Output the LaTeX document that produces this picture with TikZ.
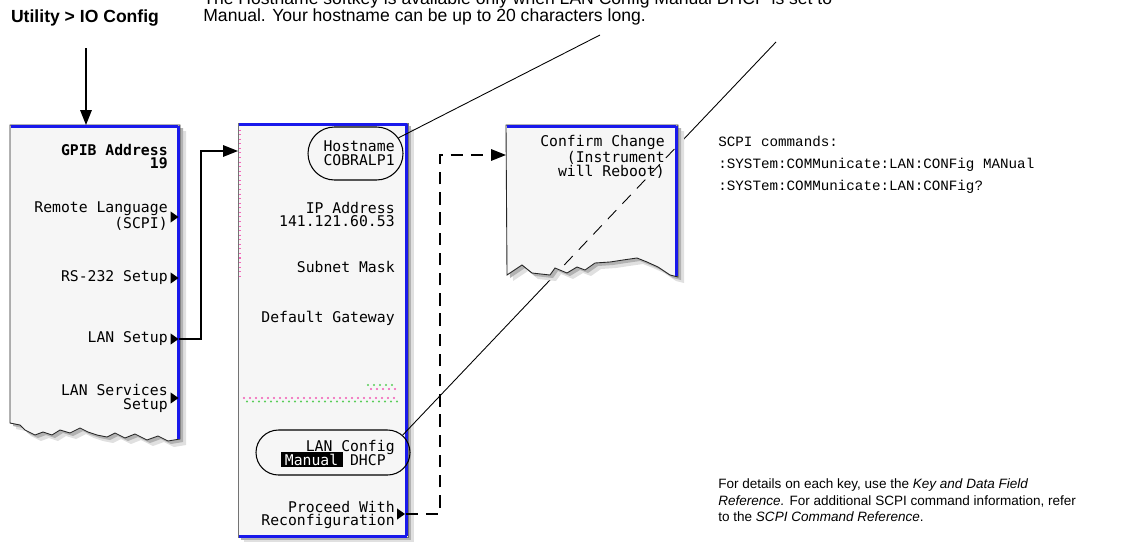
\documentclass[tikz,border=0pt]{standalone}
\usepackage{fontspec}
\setmainfont{Liberation Sans}
\setmonofont{Liberation Mono}
\newfontfamily\keyfont{DejaVu Sans Mono}
\usepackage{tikz}
\usetikzlibrary{arrows.meta}
\usetikzlibrary{positioning}
\usetikzlibrary{fit}
\usetikzlibrary{shapes.misc}
\usetikzlibrary{shapes.geometric}

\definecolor{screenbg}{RGB}{246,246,246}
\definecolor{screenblue}{RGB}{25,25,235}

% screen outlines, in pixels
\newcommand\gpibedge{(10,125) -- (180,125) -- (180,439) -- (168,441) -- (158,436) -- (147,440) -- (135,434) -- (125,438) -- (115,433) -- (107,437) -- (97,435) -- (88,432) -- (80,428) -- (70,433) -- (60,430) -- (52,435) -- (43,432) -- (35,435) -- (25,430) -- (20,425) -- (10,423) -- cycle}
\newcommand\lanedge{(238,123) rectangle (408,537)}
\newcommand\confirmedge{(506,125) -- (678,125) -- (678,277) -- (670,275) -- (658,267) -- (647,262) -- (637,258) -- (623,260) -- (610,262) -- (595,263) -- (585,270) -- (577,267) -- (567,273) -- (555,268) -- (550,275) -- (532,273) -- (522,265) -- (507,275) -- cycle}

\begin{document}
\begin{tikzpicture}[x=0.02cm, y=-0.02cm,
    keylabel/.style={font=\keyfont\fontsize{8.4}{7.9}\selectfont, align=right, anchor=east, inner sep=0pt},
    softkey/.style={isosceles triangle, isosceles triangle apex angle=70, fill=black, inner sep=0pt, minimum size=4.5pt},
    ovalkey/.style={rounded rectangle, draw, line width=0.6pt, inner sep=0pt},
    keywire/.style={line width=1pt, -{Triangle[length=8.5pt, width=6.5pt]}},
    callout/.style={line width=0.5pt},
    shadefar/.style={fill=black!12},
    shadenear/.style={fill=black!30},
    screen/.style={fill=screenbg, draw=black!85, line width=0.5pt},
    blueedge/.style={draw=screenblue, line width=1.7pt}]
\useasboundingbox (0,0) rectangle (1138,541);

\node[font=\bfseries\fontsize{10}{12}\selectfont, inner sep=0pt] (ioPath) at (85,18) {Utility > IO Config};
\node[font=\fontsize{10}{9.5}\selectfont, align=left, anchor=south west, inner sep=0pt] (hostNote) at (203,25)
    {The Hostname softkey is available only when LAN Config Manual DHCP is set to\\Manual. Your hostname can be up to 20 characters long.};

% IO Config menu
\begin{scope}[shift={(6,6)}] \fill[shadefar] \gpibedge; \end{scope}
\begin{scope}[shift={(3,3)}] \fill[shadenear] \gpibedge; \end{scope}
\filldraw[screen] \gpibedge;
\draw[blueedge] (11,126.5) -- (178,126.5);
\draw[blueedge] (178.5,126) -- (178.5,439);
\node[keylabel, font=\keyfont\bfseries\fontsize{8.4}{7.9}\selectfont] (gpibKey) at (168,156.5) {GPIB Address\\19};
\node[keylabel] (remoteKey) at (168,216) {Remote Language\\(SCPI)};
\node[keylabel] (rsKey) at (168,278) {RS-232 Setup};
\node[keylabel] (lanKey) at (168,339) {LAN Setup};
\node[keylabel] (servKey) at (168,398) {LAN Services\\Setup};
\node[softkey] (remoteTri) at (173.5,217) {};
\node[softkey] (rsTri) at (173.5,278) {};
\node[softkey] (lanTri) at (173.5,339) {};
\node[softkey] (servTri) at (173.5,398) {};

% LAN Setup menu
\begin{scope}[shift={(6,6)}] \fill[shadefar] \lanedge; \end{scope}
\begin{scope}[shift={(3,3)}] \fill[shadenear] \lanedge; \end{scope}
\filldraw[screen, draw=black!55] \lanedge;
\draw[magenta!60, dotted, line width=0.6pt] (240,125) -- (240,277);
\draw[blueedge] (239,124.5) -- (407,124.5);
\draw[blueedge] (406.5,124) -- (406.5,536);
\draw[blueedge] (239,536) -- (407,536);
\node[keylabel] (hostKey) at (395,153.5) {Hostname\\COBRALP1};
\node[keylabel] (ipKey) at (395,214.5) {IP Address\\141.121.60.53};
\node[keylabel] (maskKey) at (395,267) {Subnet Mask};
\node[keylabel] (gateKey) at (395,318) {Default Gateway};
\foreach \x in {244,250,...,396} {
    \fill[magenta!65] (\x,398) circle (1.1);
    \fill[green!70!black!65] (\x+3,401.5) circle (1.1);
}
\foreach \x in {368,374,...,394} {
    \fill[green!70!black!65] (\x,385) circle (1.1);
    \fill[magenta!65] (\x+3,389) circle (1.1);
}
\node[keylabel] (configKey) at (395,447) {LAN Config};
\node[keylabel, anchor=base east] (dhcpKey) at (386,465) {DHCP};
\node[keylabel, anchor=base east, fill=black, text=white, inner xsep=2.5pt, inner ysep=1pt] (manualKey) at (343,465) {Manual};
\node[keylabel] (proceedKey) at (395,515) {Proceed With\\Reconfiguration};
\node[softkey] (proceedTri) at (400,514) {};
\node[ovalkey, fit={(334.5,127) (376.5,180)}] (hostOval) {};
\node[ovalkey, fit={(278.5,430) (387.5,475)}] (lanOval) {};

% callouts
\coordinate (hostTip) at (600,35);
\coordinate (lanTip) at (776,42);
\draw[callout] (hostTip) -- (hostOval.20);
\draw[callout] (lanTip) -- (lanOval.14);

% Confirm menu
\begin{scope}[shift={(6,6)}] \fill[shadefar] \confirmedge; \end{scope}
\begin{scope}[shift={(3,3)}] \fill[shadenear] \confirmedge; \end{scope}
\filldraw[screen] \confirmedge;
\draw[blueedge] (507,126.5) -- (676,126.5);
\draw[blueedge] (676.5,126) -- (676.5,276);
\node[keylabel] (confirmKey) at (665,157) {Confirm Change\\(Instrument\\will Reboot)};
\begin{scope}
\clip \confirmedge;
\draw[callout, dash pattern=on 7pt off 5pt] (lanTip) -- (lanOval.14);
\end{scope}

% menu links
\coordinate (gpibTop) at (86,125);
\coordinate (ioStart) at (86,48);
\coordinate (lanIn) at (238,151);
\coordinate (confirmIn) at (506,155);
\draw[keywire] (ioStart) -- (gpibTop);
\draw[keywire] (lanTri.east) -- ++(22,0) |- (lanIn);
\draw[keywire, dash pattern=on 7pt off 4.5pt] (proceedTri.east) -- ++(34,0) |- (confirmIn);

\node[font=\ttfamily\fontsize{8.1}{12.5}\selectfont, align=left, anchor=north west, inner sep=0pt] (scpiNote) at (718,136)
    {SCPI commands:\\:SYSTem:COMMunicate:LAN:CONFig MANual\\:SYSTem:COMMunicate:LAN:CONFig?};
\node[font=\fontsize{7.7}{9.6}\selectfont, align=left, anchor=north west, inner sep=0pt] (refNote) at (718,478)
    {For details on each key, use the \textit{Key and Data Field}\\\textit{Reference.} For additional SCPI command information, refer\\to the \textit{SCPI Command Reference}.};
\end{tikzpicture}
\end{document}
